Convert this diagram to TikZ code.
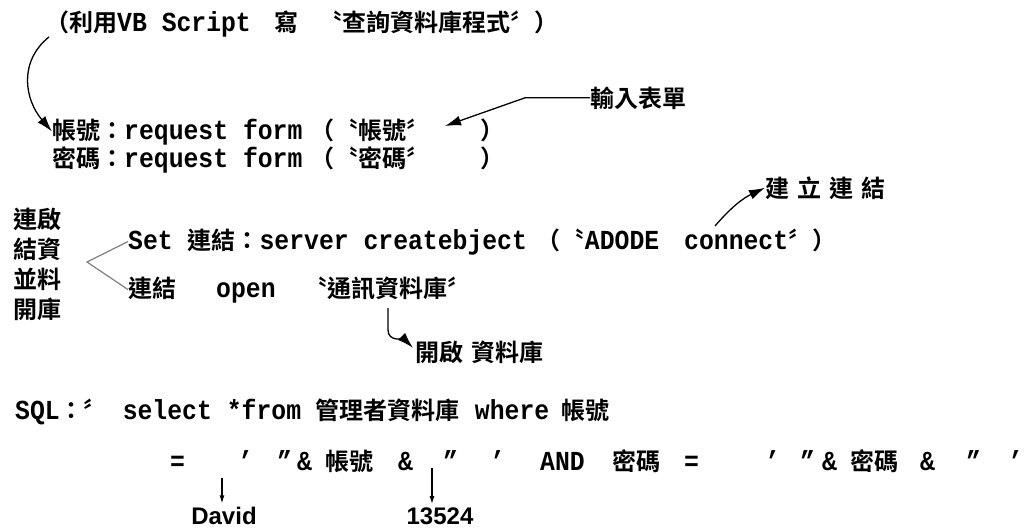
\documentclass[tikz,border=0pt]{standalone}
\usepackage{fontspec}
\setmainfont{Liberation Mono}[UprightFont=* Bold, FakeStretch=0.9]
\newfontfamily\cjk{Noto Sans CJK TC}[UprightFont=* Bold]
\newfontfamily\arialb{Liberation Sans}[UprightFont=* Bold]
\newcommand{\zh}[1]{{\cjk\fontsize{24}{28}\selectfont #1}}
\usetikzlibrary{arrows.meta}

\begin{document}
\begin{tikzpicture}[x=1pt,y=-1pt,
  code/.style={anchor=base west, inner sep=0pt, font=\fontsize{27.5}{30}\selectfont},
  note/.style={anchor=base west, inner sep=0pt, font=\cjk\fontsize{24}{28}\selectfont},
  value/.style={anchor=base, inner sep=0pt, font=\arialb\fontsize{24}{28}\selectfont},
  bigarr/.style={-{Latex[length=16pt,width=10pt]}, line width=1.3pt},
  smallarr/.style={-{Latex[length=8pt,width=5pt]}, line width=1.2pt}]
  \useasboundingbox (0,0) rectangle (1025,531);
  \node[code] (vb) at (45,31) {\zh{（利用}VB Script\hspace{24pt}\zh{寫\hspace{20pt}〝查詢資料庫程式〞）}};
  \node[code] (acct) at (52,139) {\zh{帳號：}request form\hspace{8pt}\zh{（〝帳號〞\hspace{50pt}）}};
  \node[code] (pwd) at (52,167) {\zh{密碼：}request form\hspace{8pt}\zh{（〝密碼〞\hspace{50pt}）}};
  \node[note] (inputlbl) at (590,107) {輸入表單};
  \node[note] (linklbl) at (765,197) {建\hspace{8pt}立\hspace{8pt}連\hspace{8pt}結};
  \node[note, anchor=north west, align=left, font=\cjk\fontsize{24}{30}\selectfont] (side) at (13,208) {連啟\\結資\\並料\\開庫};
  \node[code] (setln) at (128,249) {Set \zh{連結：}server createbject\hspace{10pt}\zh{（〝}ADODE\hspace{25pt}connect\zh{〞）}};
  \node[code] (openln) at (128,297) {\zh{連結}\hspace{40pt}open\hspace{28pt}\zh{〝通訊資料庫〞}};
  \node[note] (openlbl) at (415,361) {開啟\hspace{8pt}資料庫};
  \node[code] (sql) at (15,419) {SQL\zh{：〞}\hspace{15pt}select\hspace{15pt}*from \zh{管理者資料庫}\hspace{15pt}where\hspace{12pt}\zh{帳號}};
  \foreach \x/\t [count=\i] in {170/=, 238/', 277/", 297/\&, 325/{\zh{帳號}}, 398/\&, 443/", 490/',
      540/AND, 612/{\zh{密碼}}, 684/=, 765/', 800/", 822/\&, 850/{\zh{密碼}}, 920/\&, 966/", 1008/'}
    \node[code] (eq\i) at (\x,470) {\t};
  \node[value] (david) at (224,524) {David};
  \node[value] (num) at (440,524) {13524};
  \coordinate (formtip) at (445,126);
  \coordinate (linktail) at (715,226);
  \coordinate (apex) at (87,262);
  \coordinate (opentail) at (388,308);
  \coordinate (davtail) at (222,478);
  \coordinate (numtail) at (432,468);
  \draw[bigarr] ([xshift=4pt]vb.south west) .. controls (18,62) and (25,100) .. (acct.west);
  \draw[bigarr] (inputlbl.west) -- ++(-65,0) -- (formtip);
  \draw[bigarr] (linktail) to[bend left=12] (linklbl.west);
  \draw[gray, line width=1.2pt] (setln.west) -- (apex) -- (openln.west);
  \draw[bigarr] (opentail) -- ++(0,22) to[out=-90,in=135] ([shift={(-2pt,4pt)}]openlbl.west);
  \draw[smallarr] (davtail) -- ([yshift=3pt]davtail |- david.north);
  \draw[smallarr] (numtail) -- ([yshift=3pt]numtail |- num.north);
\end{tikzpicture}
\end{document}
